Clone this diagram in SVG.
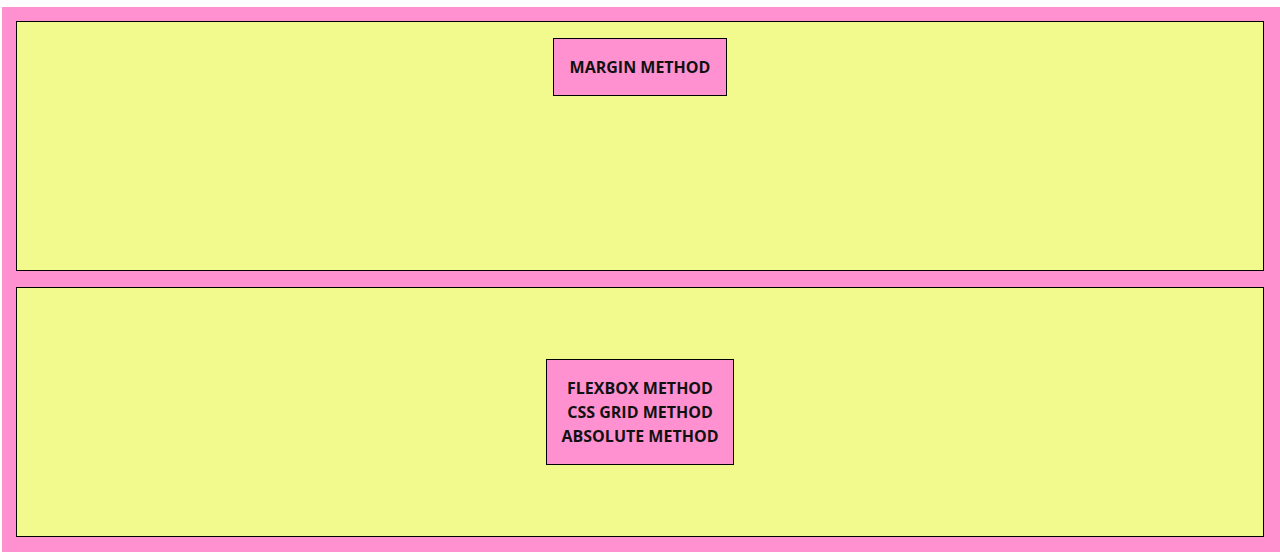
<svg xmlns="http://www.w3.org/2000/svg" width="1280" height="558" viewBox="0 0 1280 558">
<style>
.outer{fill:#ff91d0}
.panel{fill:#f2f98d;stroke:#000;stroke-width:1}
.box{fill:#ff91d0;stroke:#000;stroke-width:1}
.t{font-family:"Open Sans","Noto Sans",sans-serif;font-weight:bold;font-size:16px;fill:#111;text-anchor:middle}
</style>
<rect class="outer" x="2" y="7" width="1278" height="545"/>
<g id="panel-top"><rect class="panel" x="16.5" y="21.5" width="1247" height="249"/></g>
<g id="panel-bottom"><rect class="panel" x="16.5" y="287.5" width="1247" height="249"/></g>
<g id="margin-method">
<rect class="box" x="553.5" y="38.5" width="173" height="57"/>
<text class="t" x="640" y="73">MARGIN METHOD</text>
</g>
<g id="centered-methods">
<rect class="box" x="546.5" y="359.5" width="187" height="105"/>
<text class="t" x="640" y="394">FLEXBOX METHOD</text>
<text class="t" x="640" y="418">CSS GRID METHOD</text>
<text class="t" x="640" y="442">ABSOLUTE METHOD</text>
</g>
<g id="connectors"/>
</svg>
